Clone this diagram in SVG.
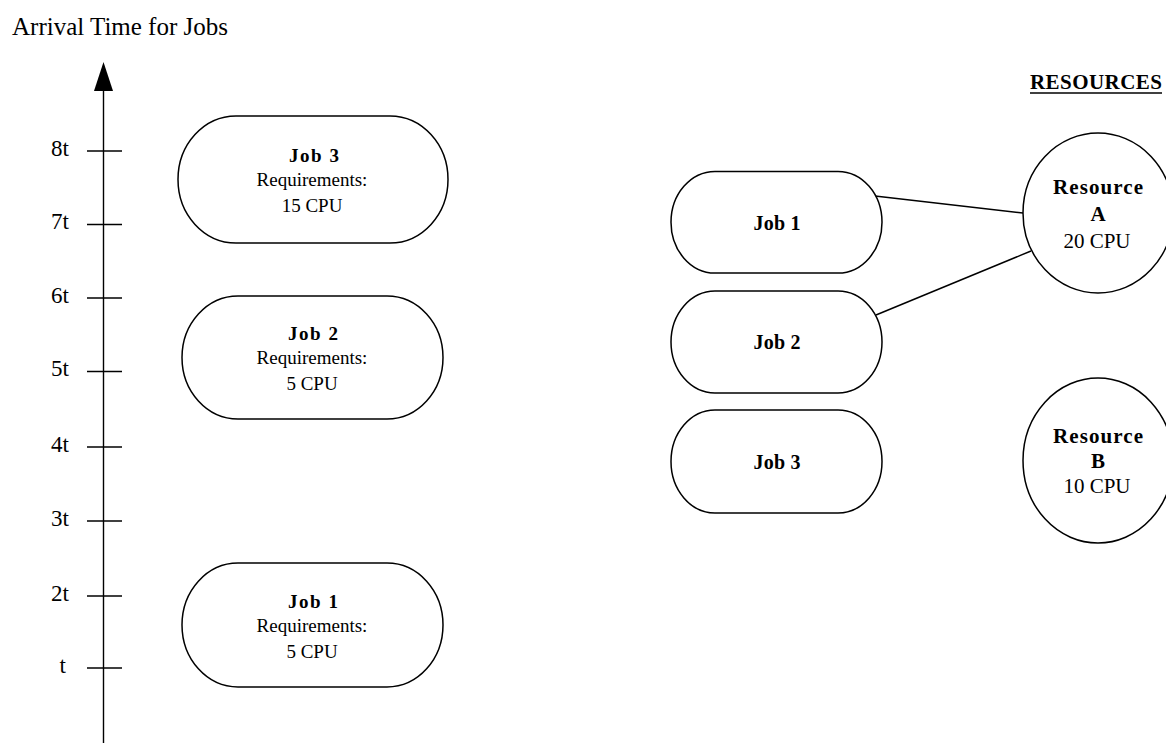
<svg xmlns="http://www.w3.org/2000/svg" width="1166" height="743" viewBox="0 0 1166 743">
  <style>
    text { font-family: "Liberation Serif", "Times New Roman", serif; fill: #000; }
    .req { font-size: 19px; text-anchor: middle; }
    .jb { font-size: 19px; font-weight: bold; text-anchor: middle; }
    .qj { font-size: 20px; font-weight: bold; text-anchor: middle; }
    .rb { font-size: 21px; font-weight: bold; text-anchor: middle; }
    .rt { font-size: 21px; text-anchor: middle; }
    .lbl { font-size: 23px; text-anchor: end; }
    .shape { fill: #fff; stroke: #000; stroke-width: 1.5; }
    .ln { stroke: #000; stroke-width: 1.4; fill: none; }
  </style>
  <rect width="1166" height="743" fill="#fff"/>

  <!-- time axis -->
  <g id="axis">
    <text x="12" y="35" font-size="25">Arrival Time for Jobs</text>
    <line class="ln" x1="103.5" y1="85" x2="103.5" y2="743"/>
    <polygon points="103.5,62 94,91 113,91" fill="#000"/>
    <g class="ln">
      <line x1="87" y1="151" x2="122" y2="151"/>
      <line x1="87" y1="224.5" x2="122" y2="224.5"/>
      <line x1="87" y1="298" x2="122" y2="298"/>
      <line x1="87" y1="371.5" x2="122" y2="371.5"/>
      <line x1="87" y1="447" x2="122" y2="447"/>
      <line x1="87" y1="521" x2="122" y2="521"/>
      <line x1="87" y1="596" x2="122" y2="596"/>
      <line x1="87" y1="668" x2="122" y2="668"/>
    </g>
    <text class="lbl" x="69" y="155.5">8t</text>
    <text class="lbl" x="69" y="229">7t</text>
    <text class="lbl" x="69" y="302.5">6t</text>
    <text class="lbl" x="69" y="376">5t</text>
    <text class="lbl" x="69" y="451.5">4t</text>
    <text class="lbl" x="69" y="525.5">3t</text>
    <text class="lbl" x="69" y="600.5">2t</text>
    <text class="lbl" x="66" y="672.5">t</text>
  </g>

  <!-- jobs by arrival time -->
  <g id="arrival-job3">
    <rect class="shape" x="178" y="116" width="270" height="127" rx="58" ry="63.5"/>
    <text class="jb" x="314" y="161.5" textLength="50">Job 3</text>
    <text class="req" x="312" y="186">Requirements:</text>
    <text class="req" x="312" y="212">15 CPU</text>
  </g>
  <g id="arrival-job2">
    <rect class="shape" x="182" y="296" width="261" height="123" rx="56" ry="61.5"/>
    <text class="jb" x="313" y="339.5" textLength="50">Job 2</text>
    <text class="req" x="312" y="364">Requirements:</text>
    <text class="req" x="312" y="390">5 CPU</text>
  </g>
  <g id="arrival-job1">
    <rect class="shape" x="182" y="563" width="261" height="124" rx="56" ry="62"/>
    <text class="jb" x="313" y="607.5" textLength="50">Job 1</text>
    <text class="req" x="312" y="632">Requirements:</text>
    <text class="req" x="312" y="658">5 CPU</text>
  </g>

  <!-- job-to-resource links -->
  <g id="connectors" class="ln">
    <line x1="875" y1="196" x2="1023" y2="213"/>
    <line x1="876" y1="315" x2="1031" y2="251"/>
  </g>

  <!-- queued jobs -->
  <g id="job1">
    <rect class="shape" x="671" y="171.5" width="211" height="101.5" rx="44" ry="50.75"/>
    <text class="qj" x="777" y="230" textLength="47">Job 1</text>
  </g>
  <g id="job2">
    <rect class="shape" x="671" y="291" width="211" height="102" rx="44" ry="51"/>
    <text class="qj" x="777" y="349" textLength="47">Job 2</text>
  </g>
  <g id="job3">
    <rect class="shape" x="671" y="410" width="211" height="103" rx="44" ry="51.5"/>
    <text class="qj" x="777" y="468.5" textLength="47">Job 3</text>
  </g>

  <!-- resources -->
  <g id="resources-title">
    <text x="1030" y="88.5" font-size="21" font-weight="bold" textLength="132">RESOURCES</text>
    <line class="ln" x1="1030" y1="93" x2="1162" y2="93"/>
  </g>
  <g id="resource-a">
    <ellipse class="shape" cx="1098" cy="213" rx="75" ry="80"/>
    <text class="rb" x="1098" y="194" textLength="90">Resource</text>
    <text class="rb" x="1098" y="221">A</text>
    <text class="rt" x="1097" y="248">20 CPU</text>
  </g>
  <g id="resource-b">
    <ellipse class="shape" cx="1098" cy="460.5" rx="75" ry="82.5"/>
    <text class="rb" x="1098" y="443" textLength="90">Resource</text>
    <text class="rb" x="1098" y="468">B</text>
    <text class="rt" x="1097" y="493">10 CPU</text>
  </g>
</svg>
